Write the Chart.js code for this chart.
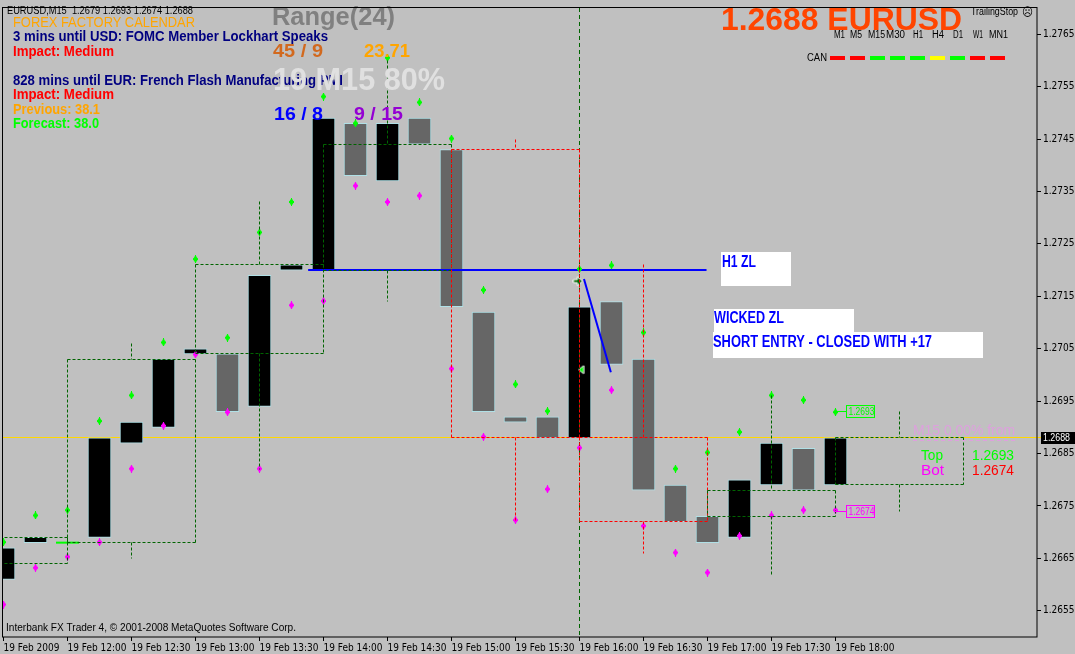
<!DOCTYPE html>
<html><head><meta charset="utf-8">
<script src="https://cdn.jsdelivr.net/npm/chart.js@4.4.1/dist/chart.umd.min.js"></script>
<style>html,body{margin:0;padding:0;background:#c0c0c0;overflow:hidden}canvas{display:block}</style>
</head><body>
<canvas id="c" width="1075" height="654" style="width:1075px;height:654px"></canvas>
<script>
// ---------------- data ----------------
const xTickIndex  = [0,2,4,6,8,10,12,14,16,18,20,22,24,26];
const xTickLabels = ['19 Feb 2009','19 Feb 12:00','19 Feb 12:30','19 Feb 13:00','19 Feb 13:30','19 Feb 14:00','19 Feb 14:30','19 Feb 15:00','19 Feb 15:30','19 Feb 16:00','19 Feb 16:30','19 Feb 17:00','19 Feb 17:30','19 Feb 18:00'];
const yTickValues = [1.2655,1.2665,1.2675,1.2685,1.2695,1.2705,1.2715,1.2725,1.2735,1.2745,1.2755,1.2765];
const yTickLabels = ['1.2655','1.2665','1.2675','1.2685','1.2695','1.2705','1.2715','1.2725','1.2735','1.2745','1.2755','1.2765'];

// M15 bars 11:30 .. 18:00
const barOpen  = [1.2661,1.2668,1.2668,1.2669,1.2687,1.2690,1.2704,1.2704,1.2694,1.2720,1.2720,1.2748,1.2737,1.2749,1.2743,1.2712,1.2692,1.2692,1.2688,1.2714,1.2703,1.2679,1.2673,1.2669,1.2679,1.2686,1.2679];
const barClose = [1.2667,1.2669,1.2668,1.2688,1.2691,1.2703,1.2705,1.2693,1.2719,1.2721,1.2749,1.2738,1.2748,1.2744,1.2713,1.2693,1.2691,1.2688,1.2713,1.2702,1.2678,1.2672,1.2668,1.2680,1.2687,1.2678,1.2688];
const barHigh  = [1.26681,1.26732,1.26742,1.26912,1.26961,1.27062,1.27221,1.27071,1.27272,1.27330,1.27531,1.27480,1.27605,1.27520,1.27451,1.27162,1.26982,1.26931,1.27202,1.27209,1.27081,1.26821,1.26852,1.26891,1.26961,1.26952,1.26929];
const barLow   = [1.26562,1.26632,1.26653,1.26681,1.26821,1.26903,1.27039,1.26929,1.26821,1.27133,1.27141,1.27361,1.27330,1.27342,1.27012,1.26882,1.26723,1.26782,1.26861,1.26971,1.26712,1.26661,1.26623,1.26693,1.26732,1.26742,1.26742];

// H1 candles overlaid as dashed boxes (start bar index, 4 bars each)
const h1Start = [-2,2,6,10,14,18,22,26];
const h1Open  = [1.2664,1.2668,1.2704,1.2720,1.2743,1.2688,1.2673,1.2679];
const h1Close = [1.2669,1.2703,1.2721,1.2744,1.2688,1.2672,1.2678,1.2688];
const h1High  = [null,1.2706,1.2733,1.2760,1.2745,1.2721,1.2696,1.2693];
const h1Low   = [null,1.2665,1.2682,1.2714,1.2672,1.2666,1.2662,1.2674];

const bidPrice = 1.2688;
const zoneLineX = [9.52, 21.97], zoneLineY = [1.2720, 1.2720];
const exitLineX = [18.14, 18.98], exitLineY = [1.27183, 1.27005];
const entryArrowX = [17.95], entryArrowY = [1.27179];
const closeMarkX = [18.05], closeMarkY = [1.27010];
const markerLine = 18;
const rangeTop = 1.2693, rangeBot = 1.2674;
const tfNames = ['M1','M5','M15','M30','H1','H4','D1','W1','MN1'];
const canSignals = ['#ff0000','#ff0000','#00ff00','#00ff00','#00ff00','#ffff00','#00ff00','#ff0000','#ff0000'];

// ---------------- helpers ----------------
const FONT = '"Liberation Sans", Arial, sans-serif';
const AXFONT = '"DejaVu Sans Condensed", "Liberation Sans", sans-serif';
function crisp(v){ return Math.floor(v) + 0.5; }
function mkMarker(color){
  const c = document.createElement('canvas'); c.width = 5; c.height = 8;
  const g = c.getContext('2d'); g.fillStyle = color;
  g.beginPath(); g.moveTo(2.5,0); g.lineTo(5,4); g.lineTo(2.5,8); g.lineTo(0,4); g.closePath(); g.fill();
  g.fillRect(0,3,5,2); g.fillRect(2,0,1,8);
  return c;
}
function mkArrow(){
  const c = document.createElement('canvas'); c.width = 11; c.height = 11;
  const g = c.getContext('2d');
  g.beginPath(); g.moveTo(1,4); g.lineTo(5,4); g.lineTo(5,1); g.lineTo(10,5.5); g.lineTo(5,10); g.lineTo(5,7); g.lineTo(1,7); g.closePath();
  g.fillStyle = '#006400'; g.fill(); g.strokeStyle = '#ffffff'; g.lineWidth = 1; g.stroke();
  return c;
}
function mkLeftTri(){
  const c = document.createElement('canvas'); c.width = 7; c.height = 10;
  const g = c.getContext('2d');
  g.beginPath(); g.moveTo(6,1); g.lineTo(1,5); g.lineTo(6,9); g.closePath();
  g.fillStyle = '#00ff00'; g.fill(); g.strokeStyle = '#ffffff'; g.lineWidth = 1; g.stroke();
  return c;
}
function fitText(ctx, s, x, yc, font, color, w){
  ctx.save(); ctx.font = font; ctx.fillStyle = color; ctx.textBaseline = 'middle'; ctx.textAlign = 'left';
  const m = ctx.measureText(s).width; const sx = w ? w / m : 1;
  ctx.translate(x, yc); ctx.scale(sx, 1); ctx.fillText(s, 0, 0); ctx.restore();
}
function hline(ctx, x0, x1, y){ ctx.beginPath(); ctx.moveTo(x0, y); ctx.lineTo(x1, y); ctx.stroke(); }
function vline(ctx, x, y0, y1){ ctx.beginPath(); ctx.moveTo(x, y0); ctx.lineTo(x, y1); ctx.stroke(); }

// ---------------- overlay plugin ----------------
const overlay = {
  id: 'overlay',
  beforeDatasetsDraw(chart){
    const {ctx, chartArea:a, scales:{x, y}} = chart;
    ctx.save();
    ctx.setLineDash([]);
    ctx.strokeStyle = '#ffd800'; ctx.lineWidth = 1;
    hline(ctx, a.left, a.right + 4, crisp(y.getPixelForValue(bidPrice)));
    ctx.restore();
  },
  afterDatasetsDraw(chart){
    const {ctx, chartArea:a, scales:{x, y}} = chart;
    const X = v => x.getPixelForValue(v), Y = v => y.getPixelForValue(v);
    ctx.save();
    ctx.beginPath(); ctx.rect(a.left, a.top, a.right - a.left, a.bottom - a.top); ctx.clip();
    ctx.lineWidth = 1;
    // vertical marker line
    ctx.setLineDash([4,3]); ctx.strokeStyle = '#006400';
    vline(ctx, crisp(X(markerLine)), a.top, a.bottom);
    // H1 boxes
    ctx.setLineDash([3,2]);
    h1Start.forEach((s, k) => {
      const o = h1Open[k], c = h1Close[k];
      ctx.strokeStyle = c >= o ? '#006400' : '#ff0000';
      const x0 = crisp(X(s)), x1 = crisp(X(s + 4)), xm = crisp(X(s + 2));
      const yt = crisp(Y(Math.max(o, c))), yb = crisp(Y(Math.min(o, c)));
      hline(ctx, x0, x1, yt); hline(ctx, x0, x1, yb);
      vline(ctx, x0, yt, yb); vline(ctx, x1, yt, yb);
      if (h1High[k] != null){ vline(ctx, xm, crisp(Y(h1High[k])), yt); vline(ctx, xm, yb, crisp(Y(h1Low[k]))); }
    });
    ctx.setLineDash([]);
    // price tags for range top / bottom
    const tag = (val, color) => {
      const px = X(26) - 1, py = crisp(Y(val));
      ctx.strokeStyle = color; ctx.lineWidth = 1;
      hline(ctx, px, px + 12, py);
      ctx.strokeRect(Math.floor(px + 12) + 0.5, py - 6, 28, 12);
      fitText(ctx, val.toFixed(4), px + 14, py + 0.5, '10px ' + FONT, color, 26);
    };
    tag(rangeTop, '#00ff00'); tag(rangeBot, '#ff00ff');
    ctx.restore();

    ctx.save();
    // white label boxes
    ctx.fillStyle = '#ffffff';
    ctx.fillRect(721, 252, 70, 34);
    ctx.fillRect(714, 309, 140, 23);
    ctx.fillRect(713, 332, 270, 26);
    fitText(ctx, 'H1 ZL', 722, 262.5, 'bold 16px ' + FONT, '#0000ff', 34);
    fitText(ctx, 'WICKED ZL', 714, 319, 'bold 16px ' + FONT, '#0000ff', 70);
    fitText(ctx, 'SHORT ENTRY - CLOSED WITH +17', 713, 342.5, 'bold 16px ' + FONT, '#0000ff', 219);
    // range stats
    fitText(ctx, 'M15 0.00% from', 913, 431, '14px ' + FONT, '#dda0dd', 102);
    ctx.strokeStyle = '#dda0dd'; ctx.setLineDash([4,3]); hline(ctx, 913, 1015, 440.5); ctx.setLineDash([]);
    fitText(ctx, 'Top', 921, 456, '14px ' + FONT, '#00ff00', 22);
    fitText(ctx, rangeTop.toFixed(4), 972, 456, '14px ' + FONT, '#00ff00', 42);
    fitText(ctx, 'Bot', 921, 471, '14px ' + FONT, '#ff00ff', 23);
    fitText(ctx, rangeBot.toFixed(4), 972, 471, '14px ' + FONT, '#ff0000', 42);

    // header & calendar
    fitText(ctx, 'EURUSD,M15  1.2679 1.2693 1.2674 1.2688', 7, 11.5, '10px ' + FONT, '#000000', 186);
    fitText(ctx, 'FOREX FACTORY CALENDAR', 13, 23, '14px ' + FONT, '#ffa500', 182);
    fitText(ctx, '3 mins until USD: FOMC Member Lockhart Speaks', 13, 37, 'bold 14px ' + FONT, '#000080', 315);
    fitText(ctx, 'Impact: Medium', 13, 52, 'bold 14px ' + FONT, '#ff0000', 101);
    fitText(ctx, '828 mins until EUR: French Flash Manufacturing PMI', 13, 81, 'bold 14px ' + FONT, '#000080', 330);
    fitText(ctx, 'Impact: Medium', 13, 95.5, 'bold 14px ' + FONT, '#ff0000', 101);
    fitText(ctx, 'Previous: 38.1', 13, 110, 'bold 14px ' + FONT, '#ffa500', 87);
    fitText(ctx, 'Forecast: 38.0', 13, 124, 'bold 14px ' + FONT, '#00ff00', 86);

    // range panel
    fitText(ctx, 'Range(24)', 272, 18, 'bold 26px ' + FONT, '#808080', 123);
    fitText(ctx, '45 / 9', 273, 52, 'bold 19px ' + FONT, '#d2691e', 50);
    fitText(ctx, '23.71', 364, 52, 'bold 19px ' + FONT, '#ffa500', 46);
    fitText(ctx, '19 M15 80%', 273, 81, 'bold 31px ' + FONT, '#e0e0e0', 172);
    fitText(ctx, '16 / 8', 274, 115, 'bold 19px ' + FONT, '#0000ff', 49);
    fitText(ctx, '9 / 15', 354, 115, 'bold 19px ' + FONT, '#9400d3', 49);

    // top right
    fitText(ctx, '1.2688 EURUSD', 721, 21.5, 'bold 32px ' + FONT, '#ff4500', 241);
    fitText(ctx, 'TrailingStop', 971, 12.5, '10px ' + FONT, '#000000', 47);
    fitText(ctx, '\u2639', 1022, 12.5, '12px "DejaVu Sans", sans-serif', '#000000', 11);
    const tfX = [834,850,868,886,913,932,953,973,989], tfW = [11,12,17,19,10,12,10,10,19];
    tfNames.forEach((t, i) => fitText(ctx, t, tfX[i], 35.5, '10px ' + FONT, '#000000', tfW[i]));
    fitText(ctx, 'CAN', 807, 58.5, '10px ' + FONT, '#000000', 20);
    canSignals.forEach((c, i) => { ctx.fillStyle = c; ctx.fillRect(830 + 20 * i, 56, 15, 4); });

    // footer
    fitText(ctx, 'Interbank FX Trader 4, \u00a9 2001-2008 MetaQuotes Software Corp.', 6, 628.5, '10px ' + FONT, '#000000', 290);

    // frame
    ctx.strokeStyle = '#000000'; ctx.lineWidth = 1;
    ctx.strokeRect(a.left - 0.5, a.top - 0.5, a.right - a.left + 0.5, a.bottom - a.top + 0.5);
    // current price on axis
    const py = Math.round(Y(bidPrice));
    ctx.fillStyle = '#000000'; ctx.fillRect(a.right + 4, py - 6, 35, 12);
    fitText(ctx, bidPrice.toFixed(4), a.right + 6, py + 0.5, '10px ' + FONT, '#ffffff', 27);
    ctx.restore();
  }
};

// ---------------- chart ----------------
const greenMark = mkMarker('#00ff00'), magMark = mkMarker('#ff00ff');
const idx = barOpen.map((_, i) => i);
const pts = (xs, ys) => xs.map((v, i) => ({x: v, y: ys[i]}));

new Chart(document.getElementById('c'), {
  type: 'bar',
  data: {
    datasets: [
      { type: 'bar', data: idx.map(i => ({x: i, y: [barOpen[i], barClose[i]]})),
        backgroundColor: c => (barClose[c.dataIndex] >= barOpen[c.dataIndex] ? '#000000' : '#666666'),
        borderColor: '#b0e0e6', borderWidth: 1, borderSkipped: false, barThickness: 23, order: 5, clip: 0 },
      { type: 'scatter', data: idx.filter(i => barOpen[i] === barClose[i]).map(i => ({x: i, y: barOpen[i]})),
        pointStyle: 'line', pointRadius: 11.5, borderColor: '#00ff00', borderWidth: 2, order: 4, clip: 0 },
      { type: 'line', data: pts(zoneLineX, zoneLineY), borderColor: '#0000ff', borderWidth: 2, pointRadius: 0, order: 3, clip: 0 },
      { type: 'line', data: pts(exitLineX, exitLineY), borderColor: '#0000ff', borderWidth: 2, pointRadius: 0, order: 3, clip: 0 },
      { type: 'scatter', data: pts(idx, barHigh), pointStyle: greenMark, pointRadius: 4, order: 2, clip: 0 },
      { type: 'scatter', data: pts(idx, barLow), pointStyle: magMark, pointRadius: 4, order: 2, clip: 0 },
      { type: 'scatter', data: pts(entryArrowX, entryArrowY), pointStyle: mkArrow(), pointRadius: 5, order: 1, clip: 0 },
      { type: 'scatter', data: pts(closeMarkX, closeMarkY), pointStyle: mkLeftTri(), pointRadius: 5, order: 1, clip: 0 }
    ]
  },
  options: {
    responsive: false, animation: false, devicePixelRatio: 1,
    layout: { autoPadding: false, padding: { left: 3, top: 3, right: 0, bottom: 0 } },
    plugins: { legend: { display: false }, tooltip: { enabled: false } },
    scales: {
      x: { type: 'linear', min: -0.0156, max: 32.297, offset: false, position: 'bottom',
        grid: { display: true, drawOnChartArea: false, drawTicks: true, tickLength: 4, color: '#000000', offset: false },
        border: { display: false },
        afterBuildTicks: s => { s.ticks = xTickIndex.map(v => ({value: v})); },
        afterFit: s => { s.height = 17; },
        ticks: { autoSkip: false, maxRotation: 0, minRotation: 0, align: 'start', padding: 1, color: '#000000',
          font: { family: AXFONT, size: 10 }, callback: (v, i) => xTickLabels[i] } },
      y: { type: 'linear', position: 'right', min: 1.2650, max: 1.2770,
        grid: { display: true, drawOnChartArea: false, drawTicks: true, tickLength: 4, color: '#000000' },
        border: { display: false },
        afterBuildTicks: s => { s.ticks = yTickValues.map(v => ({value: v})); },
        afterFit: s => { s.width = 38; },
        ticks: { padding: 2, color: '#000000', font: { family: AXFONT, size: 10 }, callback: (v, i) => yTickLabels[i] } }
    }
  },
  plugins: [overlay]
});
</script>
</body></html>
